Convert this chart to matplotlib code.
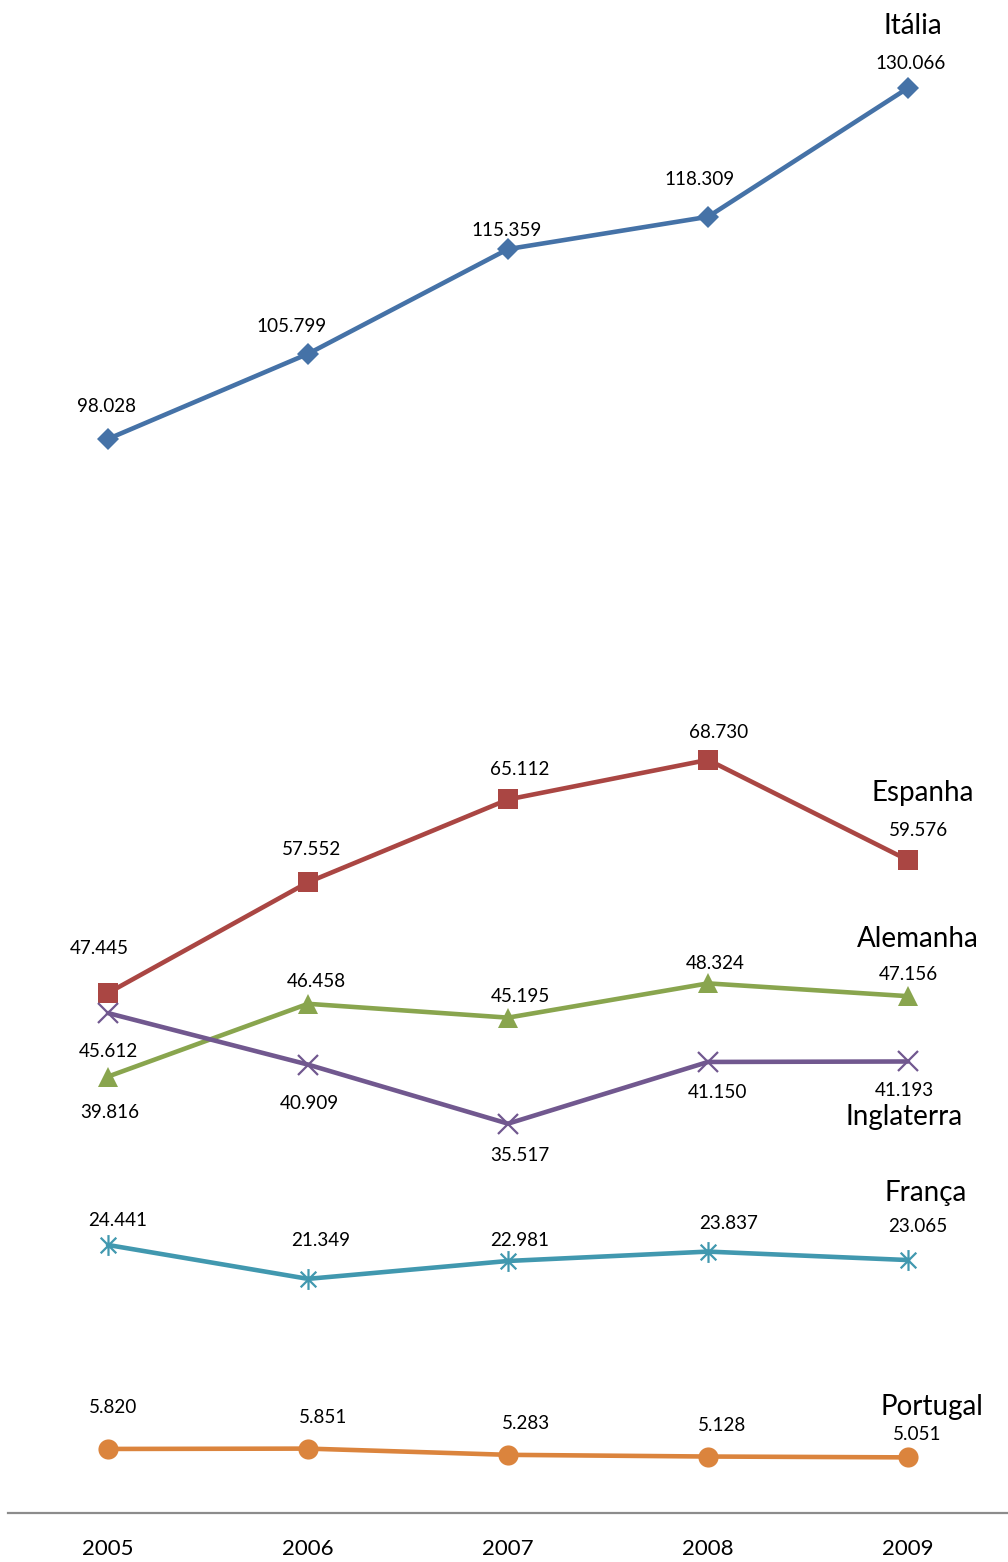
import matplotlib
matplotlib.use("Agg")
import matplotlib.pyplot as plt
from matplotlib.path import Path

# ---- data (thousands) ----
years = ["2005", "2006", "2007", "2008", "2009"]
italia = [98.028, 105.799, 115.359, 118.309, 130.066]
espanha = [47.445, 57.552, 65.112, 68.730, 59.576]
alemanha = [39.816, 46.458, 45.195, 48.324, 47.156]
inglaterra = [45.612, 40.909, 35.517, 41.150, 41.193]
franca = [24.441, 21.349, 22.981, 23.837, 23.065]
portugal = [5.820, 5.851, 5.283, 5.128, 5.051]

# asterisk-like marker: vertical bar plus an X
star_path = Path(
    [(0, -1), (0, 1), (-0.75, -0.75), (0.75, 0.75), (-0.75, 0.75), (0.75, -0.75)],
    [Path.MOVETO, Path.LINETO, Path.MOVETO, Path.LINETO, Path.MOVETO, Path.LINETO],
)

series = [
    # name, values, color, marker, size, filled, label offsets (px), name position (x, y)
    ("Itália", italia, "#4572A7", "D", 11, True,
     [(-1, 34), (-17, 29), (-1, 21), (-9, 39), (3, 27)], (4.025, 135.7)),
    ("Espanha", espanha, "#AA4643", "s", 14.5, True,
     [(-9, 47), (4, 35), (12, 32), (11, 29), (11, 32)], (4.075, 65.7)),
    ("Alemanha", alemanha, "#89A54E", "^", 15, True,
     [(2, -34), (8, 24), (12, 23), (7, 22), (0, 24)], (4.05, 52.4)),
    ("Inglaterra", inglaterra, "#71588F", "x", 15, False,
     [(0, -36), (1, -37), (12, -30), (10, -29), (-4, -27)], (3.98, 36.1)),
    ("França", franca, "#4198AF", star_path, 15, False,
     [(10, 26), (13, 40), (12, 22), (21, 30), (10, 36)], (4.09, 29.15)),
    ("Portugal", portugal, "#DB843D", "o", 14.5, True,
     [(5, 43), (15, 33), (18, 33), (14, 33), (9, 25)], (4.12, 9.63)),
]

plt.rcParams["font.family"] = ["Lato", "DejaVu Sans"]

W, H = 1008, 1562
fig = plt.figure(figsize=(W / 100, H / 100), dpi=100)
ax = fig.add_axes([8 / W, 49.3 / H, 1000 / W, 1512.7 / H])
ax.set_xlim(-0.5, 4.5)
ax.set_ylim(0, 138.1)

x = list(range(len(years)))
for name, vals, color, marker, ms, filled, offs, npos in series:
    kw = dict(color=color, lw=3.3, marker=marker, markersize=ms, solid_capstyle="round")
    if filled:
        kw.update(markerfacecolor=color, markeredgecolor=color, markeredgewidth=0)
    else:
        kw.update(markeredgecolor=color, markeredgewidth=1.6)
    ax.plot(x, vals, **kw)
    for xi, v, (dx, dy) in zip(x, vals, offs):
        ax.annotate(f"{v:.3f}", (xi, v), xytext=(dx, dy - 2), textcoords="offset pixels",
                    ha="center", va="center", fontsize=13.6, color="black")
    ax.text(npos[0], npos[1], name, ha="center", va="center", fontsize=20, color="black")

for s in ["left", "right", "top"]:
    ax.spines[s].set_visible(False)
ax.spines["bottom"].set_color("#8c8c8c")
ax.spines["bottom"].set_linewidth(1.6)
ax.set_yticks([])
ax.set_xticks(x)
ax.set_xticklabels(years, fontsize=16)
ax.tick_params(axis="x", length=0, pad=19)

fig.savefig("out.png", dpi=100)
